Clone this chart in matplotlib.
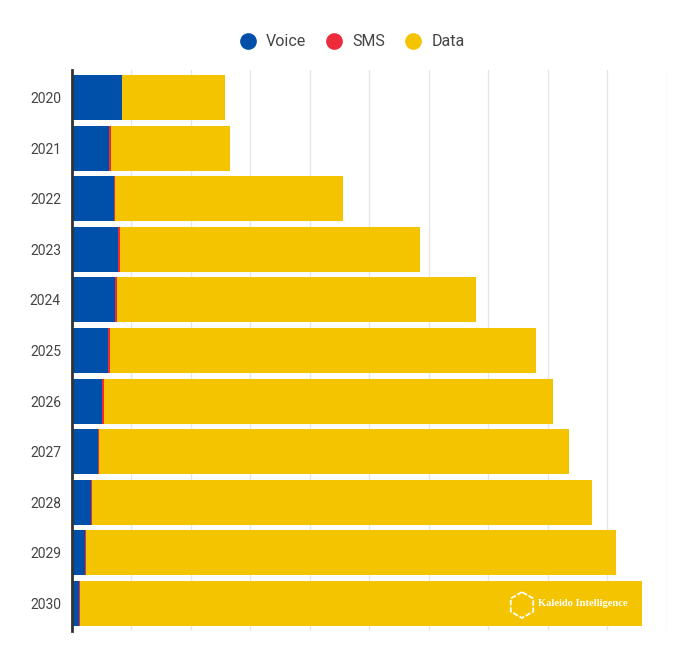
import matplotlib.pyplot as plt
from matplotlib.lines import Line2D
from matplotlib.patches import RegularPolygon
import numpy as np

years = ['2020', '2021', '2022', '2023', '2024', '2025', '2026', '2027', '2028', '2029', '2030']
voice = [0.84, 0.63, 0.70, 0.77, 0.72, 0.61, 0.51, 0.43, 0.32, 0.22, 0.11]
sms = [0.005, 0.03, 0.03, 0.035, 0.04, 0.035, 0.035, 0.02, 0.01, 0.015, 0.025]
data = [1.72, 2.00, 3.83, 5.04, 6.03, 7.15, 7.55, 7.91, 8.41, 8.91, 9.45]

c_voice = '#004fa8'
c_sms = '#ee2b3b'
c_data = '#f5c400'

plt.rcParams['font.family'] = ['Roboto', 'DejaVu Sans']

fig = plt.figure(figsize=(6.97, 6.61), dpi=100)
ax = fig.add_axes([0.1033, 0.0454, 0.8532, 0.8486])

y = np.arange(len(years))
h = 0.89
left_sms = np.array(voice)
left_data = left_sms + np.array(sms)
ax.barh(y, voice, height=h, color=c_voice, zorder=2)
ax.barh(y, sms, left=left_sms, height=h, color=c_sms, zorder=2)
ax.barh(y, data, left=left_data, height=h, color=c_data, zorder=2)

ax.set_xlim(0, 10)
ax.set_ylim(10.544, -0.544)
ax.set_yticks(y)
ax.set_yticklabels(years, fontsize=10, color='#444444')
ax.set_xticks(np.arange(1, 11))
ax.set_xticklabels([])
ax.tick_params(axis='y', length=0, pad=8)
ax.tick_params(axis='x', length=0)
ax.grid(axis='x', color='#e6e6e6', linewidth=1, zorder=0)
for s in ['top', 'right', 'bottom']:
    ax.spines[s].set_visible(False)
ax.spines['left'].set_color('#333333')
ax.spines['left'].set_linewidth(2)
ax.spines['left'].set_zorder(3)

handles = [Line2D([], [], marker='o', linestyle='', markersize=11, color=c)
           for c in [c_voice, c_sms, c_data]]
fig.legend(handles, ['Voice', 'SMS', 'Data'], loc='center', bbox_to_anchor=(0.5, 0.937),
           ncol=3, frameon=False, fontsize=11.5, handletextpad=0.15, columnspacing=0.75,
           labelcolor='#444444')

# watermark (pixel coordinates)
hexagon = RegularPolygon((522, 661 - 605), numVertices=6, radius=13,
                         transform=None, facecolor='none', edgecolor='white', linewidth=1.3,
                         linestyle=(0, (3, 1)), zorder=5)
fig.patches.append(hexagon)
fig.text(538 / 697, 1 - 604 / 661, 'Kaleido Intelligence', color='white', fontsize=7.6,
         fontfamily='Liberation Serif', fontweight='bold', va='center', ha='left')

fig.savefig('out.png', dpi=100)
